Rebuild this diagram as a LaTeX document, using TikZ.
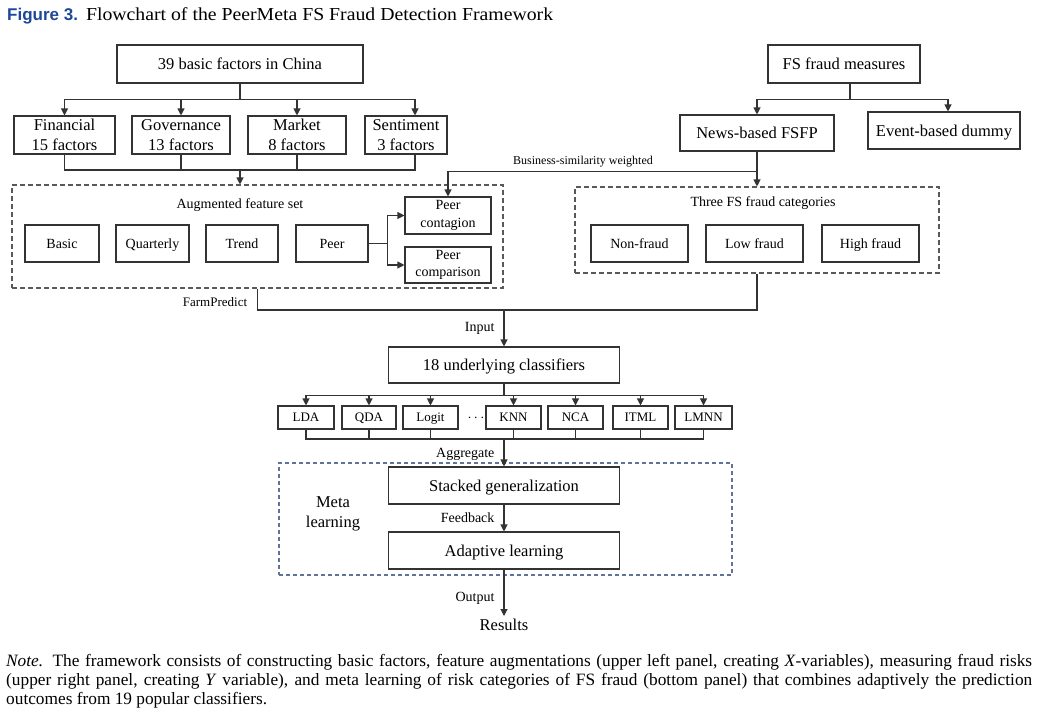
\documentclass[tikz,border=0pt]{standalone}
\usepackage{fontspec}
\setmainfont{Liberation Serif}
\newfontfamily\figfont{Liberation Sans}
\newfontfamily\headfont[FakeStretch=1.08]{Liberation Serif}
\newfontfamily\notefont{Liberation Serif}
\usetikzlibrary{arrows.meta}
\definecolor{linegray}{rgb}{0.20, 0.20, 0.20}
\definecolor{panelgray}{rgb}{0.35, 0.35, 0.35}
\definecolor{metablue}{rgb}{0.38, 0.45, 0.60}
\definecolor{figblue}{rgb}{0.12, 0.28, 0.60}
\tikzset{
	box/.style={draw=linegray, line width=1.1pt, inner sep=0pt, align=center, font=\fontsize{16.5}{19.5}\selectfont},
	bigline/.style={text height=15.5pt, text depth=4.3pt},
	featline/.style={text height=13pt, text depth=3.5pt},
	featbox/.style={box, font=\fontsize{14}{17.5}\selectfont},
	clsbox/.style={box, text height=12pt, text depth=3.2pt, minimum height=23pt, font=\fontsize{13}{14}\selectfont},
	panel/.style={draw=panelgray, line width=1.1pt, dash pattern=on 5pt off 3pt, inner sep=0pt},
	metapanel/.style={panel, draw=metablue, dash pattern=on 4pt off 3pt},
	lbl/.style={inner sep=9pt, font=\fontsize{14}{16}\selectfont},
	conn/.style={draw=linegray, line width=1.1pt},
	arr/.style={-{Triangle[length=7pt,width=7pt]}}
}

\begin{document}
\begin{tikzpicture}[x=1pt,y=-1pt]
	\useasboundingbox (0,0) rectangle (1037,716);
	\node[anchor=base west, inner sep=0pt] (title) at (7,20) {{\figfont\bfseries\color{figblue}\fontsize{17}{17}\selectfont Figure 3.}\hspace{8pt}{\headfont\fontsize{18.3}{20}\selectfont Flowchart of the PeerMeta FS Fraud Detection Framework}};

	\node[box, bigline, minimum width=246pt, minimum height=38pt] (china) at (240,64) {39 basic factors in China};
	\node[box, minimum width=101pt, minimum height=38pt] (fin) at (64.5,135) {Financial\\15 factors};
	\node[box, minimum width=98pt, minimum height=38pt] (gov) at (181,135) {Governance\\13 factors};
	\node[box, minimum width=98pt, minimum height=38pt] (mkt) at (297,135) {Market\\8 factors};
	\node[box, minimum width=82pt, minimum height=38pt] (sent) at (406,135) {Sentiment\\3 factors};

	\node[box, bigline, minimum width=152pt, minimum height=38pt] (measures) at (844,64) {FS fraud measures};
	\node[box, bigline, minimum width=154pt, minimum height=36pt] (news) at (757,133) {News-based FSFP};
	\node[box, bigline, minimum width=152pt, minimum height=37pt] (event) at (944,130.5) {Event-based dummy};

	\node[panel, minimum width=491pt, minimum height=103pt] (augset) at (257.5,236.5) {};
	\node[lbl, inner sep=0pt] (augtitle) at (240,205) {Augmented feature set};
	\node[featbox, featline, minimum width=74pt, minimum height=37pt] (basic) at (62,243.5) {Basic};
	\node[featbox, featline, minimum width=73pt, minimum height=37pt] (quart) at (152.5,243.5) {Quarterly};
	\node[featbox, featline, minimum width=72pt, minimum height=37pt] (trend) at (242,243.5) {Trend};
	\node[featbox, featline, minimum width=72pt, minimum height=37pt] (peer) at (332,243.5) {Peer};
	\node[featbox, minimum width=86pt, minimum height=37pt] (contag) at (448,215.5) {Peer\\contagion};
	\node[featbox, minimum width=86pt, minimum height=36pt] (compar) at (448,265) {Peer\\comparison};

	\node[panel, minimum width=364pt, minimum height=86pt] (fraudcat) at (757,230) {};
	\node[lbl, inner sep=0pt] (cattitle) at (763,203) {Three FS fraud categories};
	\node[featbox, featline, minimum width=97pt, minimum height=37pt] (nonfr) at (639.5,243.5) {Non-fraud};
	\node[featbox, featline, minimum width=97pt, minimum height=37pt] (lowfr) at (754.5,243.5) {Low fraud};
	\node[featbox, featline, minimum width=97pt, minimum height=37pt] (highfr) at (870.5,243.5) {High fraud};

	\node[box, bigline, minimum width=231pt, minimum height=36pt] (classif) at (504,365) {18 underlying classifiers};
	\node[clsbox, minimum width=56pt] (lda) at (306,417.5) {LDA};
	\node[clsbox, minimum width=54pt] (qda) at (369,417.5) {QDA};
	\node[clsbox, minimum width=55pt] (logit) at (430.5,417.5) {Logit};
	\node[inner sep=0pt, font=\fontsize{14}{14}\selectfont] (dots) at (476,418) {$\cdots$};
	\node[clsbox, minimum width=55pt] (knn) at (513.5,417.5) {KNN};
	\node[clsbox, minimum width=55pt] (nca) at (575.5,417.5) {NCA};
	\node[clsbox, minimum width=55pt] (itml) at (640.5,417.5) {ITML};
	\node[clsbox, minimum width=57pt] (lmnn) at (703.5,417.5) {LMNN};

	\node[metapanel, minimum width=453pt, minimum height=112pt] (meta) at (505.5,519) {};
	\node[box, draw=none] (metatitle) at (333,514) {Meta\\learning};
	\node[box, bigline, minimum width=231pt, minimum height=37pt] (stacked) at (504,485.5) {Stacked generalization};
	\node[box, bigline, minimum width=231pt, minimum height=37pt] (adapt) at (504,550.5) {Adaptive learning};
	\node[inner sep=3pt, font=\fontsize{16.5}{18}\selectfont] (results) at (504,625) {Results};

	\draw[conn, arr] (china.south) -- ++(0,16) -| (fin.north);
	\draw[conn, arr] (china.south) -- ++(0,16) -| (gov.north);
	\draw[conn, arr] (china.south) -- ++(0,16) -| (mkt.north);
	\draw[conn, arr] (china.south) -- ++(0,16) -| ([xshift=9pt]sent.north);
	\coordinate (factjoin) at (240,170);
	\draw[conn] (fin.south) |- (factjoin);
	\draw[conn] (gov.south) |- (factjoin);
	\draw[conn] (mkt.south) |- (factjoin);
	\draw[conn] ([xshift=9pt]sent.south) |- (factjoin);
	\draw[conn, arr] (factjoin) -- (factjoin |- augset.north);
	\draw[conn, arr] (peer.east) -- ++(19,0) |- (contag.west);
	\draw[conn, arr] (peer.east) -- ++(19,0) |- (compar.west);

	\draw[conn, arr] ([xshift=6pt]measures.south) -- ++(0,16) -| (news.north);
	\draw[conn, arr] ([xshift=6pt]measures.south) -- ++(0,16) -| ([xshift=4pt]event.north);
	\draw[conn, arr] (news.south) -- (news.south |- fraudcat.north);
	\draw[conn, arr] (news.south) -- ++(0,20) -| (contag.north);
	\node[inner sep=0pt, font=\fontsize{12}{14}\selectfont] (simlabel) at (583,162) {Business-similarity weighted};

	\coordinate (inputjoin) at (504,310);
	\draw[conn] (augset.south) |- (inputjoin);
	\draw[conn] (fraudcat.south) |- (inputjoin);
	\node[inner sep=0pt, font=\fontsize{13}{14}\selectfont] (farm) at (215,302) {FarmPredict};
	\draw[conn, arr] (inputjoin) -- node[lbl, left] {Input} (classif.north);

	\draw[conn, arr] (classif.south) -- ++(0,12) -| (lda.north);
	\draw[conn, arr] (classif.south) -- ++(0,12) -| (qda.north);
	\draw[conn, arr] (classif.south) -- ++(0,12) -| (logit.north);
	\draw[conn, arr] (classif.south) -- ++(0,12) -| (knn.north);
	\draw[conn, arr] (classif.south) -- ++(0,12) -| (nca.north);
	\draw[conn, arr] (classif.south) -- ++(0,12) -| (itml.north);
	\draw[conn, arr] (classif.south) -- ++(0,12) -| (lmnn.north);
	\coordinate (aggjoin) at (504,439);
	\draw[conn] (lda.south) |- (aggjoin);
	\draw[conn] (qda.south) |- (aggjoin);
	\draw[conn] (logit.south) |- (aggjoin);
	\draw[conn] (knn.south) |- (aggjoin);
	\draw[conn] (nca.south) |- (aggjoin);
	\draw[conn] (itml.south) |- (aggjoin);
	\draw[conn] (lmnn.south) |- (aggjoin);
	\draw[conn, arr] (aggjoin) -- node[lbl, left, yshift=-2pt] {Aggregate} (stacked.north);
	\draw[conn, arr] (stacked) -- node[lbl, left] {Feedback} (adapt);
	\draw[conn, arr] (adapt) -- node[lbl, left, yshift=-6pt] {Output} (results);

	\node[anchor=base west, inner sep=0pt, font=\notefont\fontsize{17.3}{19}\selectfont] (noteA) at (6,666) {\makebox[1026pt][s]{\textit{Note.} The framework consists of constructing basic factors, feature augmentations (upper left panel, creating \textit{X}-variables), measuring fraud risks}};
	\node[anchor=base west, inner sep=0pt, font=\notefont\fontsize{17.3}{19}\selectfont] (noteB) at (6,685) {\makebox[1026pt][s]{(upper right panel, creating \textit{Y} variable), and meta learning of risk categories of FS fraud (bottom panel) that combines adaptively the prediction}};
	\node[anchor=base west, inner sep=0pt, font=\notefont\fontsize{17.3}{19}\selectfont] (noteC) at (6,704) {outcomes from 19 popular classifiers.};
\end{tikzpicture}
\end{document}
